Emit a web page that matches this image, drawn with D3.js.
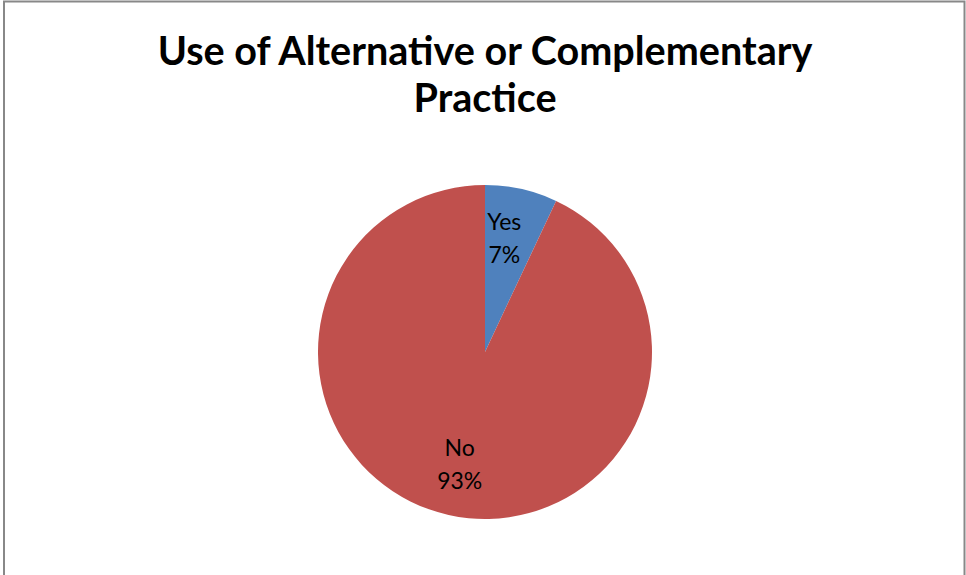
<!DOCTYPE html>
<html>
<head>
<meta charset="utf-8">
<script src="https://cdn.jsdelivr.net/npm/d3@7"></script>
<style>
  html, body { margin: 0; padding: 0; background: #fff; }
  svg { display: block; }
</style>
</head>
<body>
<svg id="chart" width="966" height="575"></svg>
<script>
const titleLines = ["Use of Alternative or Complementary", "Practice"];
const categories = ["Yes", "No"];
const values = [7, 93];
const percentLabels = ["7%", "93%"];
const colors = ["#4F81BD", "#C0504D"];

const svg = d3.select("#chart");
const W = 966, H = 575;

// chart area border
svg.append("rect")
  .attr("x", 4).attr("y", 1.5)
  .attr("width", 960.5).attr("height", H + 10)
  .attr("fill", "#fff")
  .attr("stroke", "#888888")
  .attr("stroke-width", 2);

// title
const title = svg.append("text")
  .attr("text-anchor", "middle")
  .attr("font-family", "Lato, 'Open Sans', sans-serif")
  .attr("font-weight", "bold")
  .attr("font-size", 36)
  .attr("fill", "#000");
title.selectAll("tspan").data(titleLines).enter().append("tspan")
  .attr("x", 485)
  .attr("y", (d, i) => 65 + i * 47)
  .text(d => d);
// fit first line width to the reference (~655px)
const w0 = title.select("tspan").node().getComputedTextLength();
title.attr("font-size", 36 * 655 / w0);

// pie
const cx = 485, cy = 352, r = 167;
const pie = d3.pie().sort(null).value(d => d.value);
const data = categories.map((c, i) => ({ cat: c, value: values[i], pct: percentLabels[i], color: colors[i] }));
const arcs = pie(data);
const arc = d3.arc().innerRadius(0).outerRadius(r);

const g = svg.append("g").attr("transform", `translate(${cx},${cy})`);
g.selectAll("path").data(arcs).enter().append("path")
  .attr("d", arc)
  .attr("fill", d => d.data.color);

const lbl = g.selectAll("text.lbl").data(arcs).enter().append("text")
  .attr("class", "lbl")
  .attr("text-anchor", "middle")
  .attr("font-family", "Lato, 'Open Sans', sans-serif")
  .attr("font-size", 23)
  .attr("fill", "#000")
  .attr("transform", d => {
    const a = (d.startAngle + d.endAngle) / 2;
    const rr = 116;
    const off = d.index === 0 ? -6 : 0;
    return `translate(${Math.sin(a) * rr + off},${-Math.cos(a) * rr})`;
  });
lbl.append("tspan").attr("x", 0).attr("y", -9).text(d => d.data.cat);
lbl.append("tspan").attr("x", 0).attr("y", 24).text(d => d.data.pct);
</script>
</body>
</html>
